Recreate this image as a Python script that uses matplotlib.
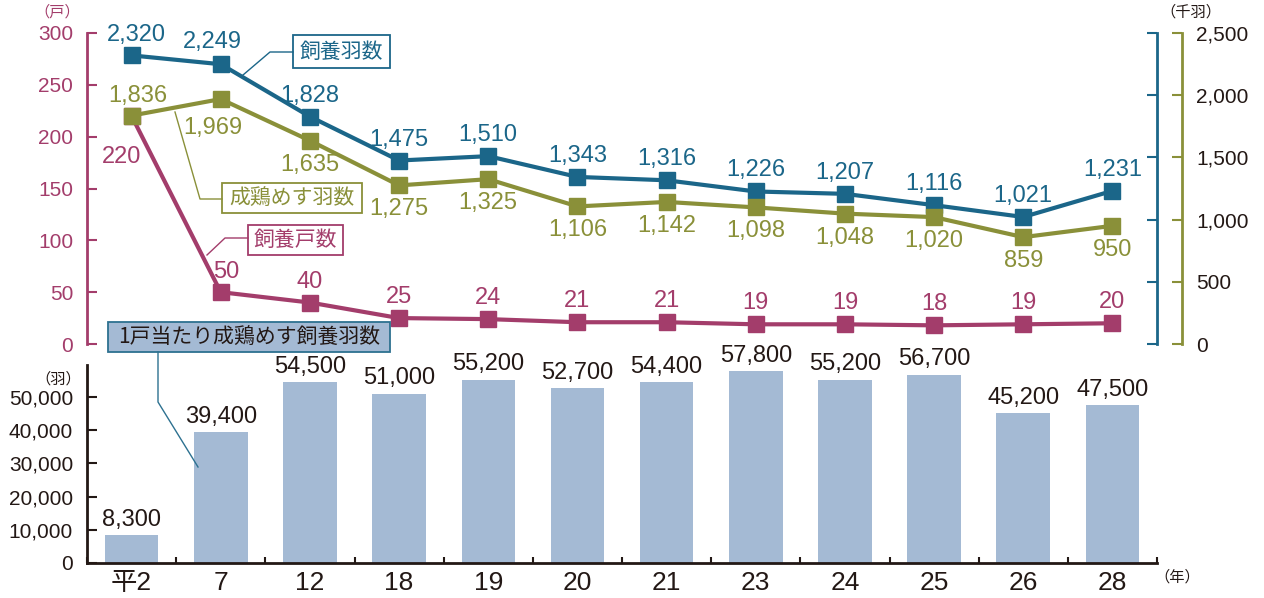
import matplotlib
matplotlib.use('Agg')
import matplotlib.pyplot as plt
from matplotlib.lines import Line2D
from matplotlib.patches import Rectangle

# data
years = ['平2', '7', '12', '18', '19', '20', '21', '23', '24', '25', '26', '28']
households = [220, 50, 40, 25, 24, 21, 21, 19, 19, 18, 19, 20]          # 飼養戸数 (戸)
birds = [2320, 2249, 1828, 1475, 1510, 1343, 1316, 1226, 1207, 1116, 1021, 1231]  # 飼養羽数 (千羽)
hens = [1836, 1969, 1635, 1275, 1325, 1106, 1142, 1098, 1048, 1020, 859, 950]     # 成鶏めす羽数 (千羽)
per_house = [8300, 39400, 54500, 51000, 55200, 52700, 54400, 57800, 55200, 56700, 45200, 47500]

BLUE = '#1b6689'
OLIVE = '#8a9039'
CRIMSON = '#a33d6b'
BAR = '#a4bad4'
INK = '#231815'
TEAL = '#2d7190'

plt.rcParams['font.family'] = ['Liberation Sans', 'Noto Sans CJK JP']

W, H = 1264, 598
fig = plt.figure(figsize=(W / 100, H / 100), dpi=100)


def rect(l, t, r, b):
    return [l / W, 1 - b / H, (r - l) / W, (b - t) / H]


def px(x, y):
    return x / W, 1 - y / H


x = list(range(len(years)))

# ---- upper: line chart ----
ax1 = fig.add_axes(rect(87, 33, 1157, 344))
ax2 = ax1.twinx()
ax3 = ax1.twinx()
for a in (ax1, ax2, ax3):
    a.set_xlim(-0.5, 11.5)
    a.set_xticks([])
    for s in ('top', 'bottom', 'left', 'right'):
        a.spines[s].set_visible(False)
    a.patch.set_visible(False)

ax1.set_ylim(0, 300)
ax1.set_yticks(range(0, 301, 50))
ax1.spines['left'].set_visible(True)
ax1.spines['left'].set_color(CRIMSON)
ax1.spines['left'].set_linewidth(2)
ax1.tick_params(axis='y', direction='in', length=7, width=1.5, color=CRIMSON,
                labelcolor=CRIMSON, labelsize=15, pad=10)

ax2.set_ylim(0, 2500)
ax2.set_yticks(range(0, 2501, 500))
ax2.spines['right'].set_visible(True)
ax2.spines['right'].set_color(BLUE)
ax2.spines['right'].set_linewidth(2)
ax2.tick_params(axis='y', direction='in', length=7, width=1.5, color=BLUE, labelright=False)

ax3.set_ylim(0, 2500)
ax3.set_yticks(range(0, 2501, 500))
ax3.set_yticklabels([f'{v:,}' for v in range(0, 2501, 500)])
ax3.spines['right'].set_visible(True)
ax3.spines['right'].set_position(('outward', 18))
ax3.spines['right'].set_color(OLIVE)
ax3.spines['right'].set_linewidth(2)
ax3.tick_params(axis='y', direction='in', length=7, width=1.5, color=OLIVE,
                labelcolor=INK, labelsize=15, pad=10)

ax1.plot(x, households, color=CRIMSON, lw=3, marker='s', ms=11.5, clip_on=False)
ax2.plot(x, birds, color=BLUE, lw=3, marker='s', ms=11.5, clip_on=False)
ax3.plot(x, hens, color=OLIVE, lw=3, marker='s', ms=11.5, clip_on=False)

# value labels (offsets in pixels)
blue_off = [(5, 20)] + [(-8, 22)] + [(0, 21)] * 10
olive_off = [(6, 20)] + [(-8, -29)] + [(0, -24)] * 10
crim_off = [(-10, -41)] + [(5, 20)] + [(0, 21)] * 10

for i in x:
    ax2.annotate(f'{birds[i]:,}', (i, birds[i]), xytext=blue_off[i], textcoords='offset pixels',
                 ha='center', va='center', fontsize=17, color=BLUE)
    ax3.annotate(f'{hens[i]:,}', (i, hens[i]), xytext=olive_off[i], textcoords='offset pixels',
                 ha='center', va='center', fontsize=17, color=OLIVE)
    ax1.annotate(f'{households[i]:,}', (i, households[i]), xytext=crim_off[i], textcoords='offset pixels',
                 ha='center', va='center', fontsize=17, color=CRIMSON)

# ---- lower: bar chart ----
ax4 = fig.add_axes(rect(87, 365, 1157, 563))
ax4.set_xlim(-0.5, 11.5)
ax4.set_ylim(0, 59600)
bars = ax4.bar(x, per_house, width=0.6, color=BAR)
ax4.bar_label(bars, labels=[f'{v:,}' for v in per_house], padding=3, fontsize=17, color=INK)
ax4.set_yticks(range(0, 50001, 10000))
ax4.set_yticklabels([f'{v:,}' for v in range(0, 50001, 10000)])
ax4.set_xticks(x)
ax4.set_xticklabels(years)
ax4.set_xticks([i - 0.5 for i in range(len(years) + 1)], minor=True)
for s in ('top', 'right'):
    ax4.spines[s].set_visible(False)
for s in ('left', 'bottom'):
    ax4.spines[s].set_color(INK)
    ax4.spines[s].set_linewidth(2)
ax4.tick_params(axis='y', direction='in', length=7, width=1.5, color=INK, labelcolor=INK,
                labelsize=15, pad=10)
ax4.tick_params(axis='x', which='major', length=0, labelsize=19, labelcolor=INK, pad=6)
ax4.tick_params(axis='x', which='minor', direction='in', length=4, width=1.5, color=INK)

# ---- unit labels ----
fig.text(*px(57, 12), '（戸）', color=CRIMSON, fontsize=11, ha='center', va='center')
fig.text(*px(1191, 12), '（千羽）', color=INK, fontsize=11, ha='center', va='center')
fig.text(*px(58, 379), '（羽）', color=INK, fontsize=11, ha='center', va='center')
fig.text(*px(1177, 577), '（年）', color=INK, fontsize=11, ha='center', va='center')


# ---- callouts ----
def callout(text, l, t, r, b, ec, fc, tc, path, lc):
    fig.add_artist(Line2D([px(*p)[0] for p in path], [px(*p)[1] for p in path],
                          transform=fig.transFigure, color=lc, lw=1.0))
    fig.add_artist(Rectangle(px(l, b), (r - l) / W, (b - t) / H, transform=fig.transFigure,
                             fc=fc, ec=ec, lw=1.3))
    fig.text(*px((l + r) / 2, (t + b) / 2), text, color=tc, fontsize=15,
             ha='center', va='center', family=['Noto Sans CJK JP'])


callout('飼養羽数', 293, 35, 390, 68, BLUE, 'white', BLUE,
        [(243, 75), (270, 52), (293, 52)], BLUE)
callout('成鶏めす羽数', 222, 183, 362, 213, OLIVE, 'white', OLIVE,
        [(175, 112), (200, 199), (222, 199)], OLIVE)
callout('飼養戸数', 248, 225, 343, 255, CRIMSON, 'white', CRIMSON,
        [(207, 255), (225, 238), (248, 238)], CRIMSON)
callout('1戸当たり成鶏めす飼養羽数', 108, 322, 390, 352, TEAL, BAR, INK,
        [(158, 352), (158, 402), (198, 467)], TEAL)

fig.savefig('out.png', dpi=100)
